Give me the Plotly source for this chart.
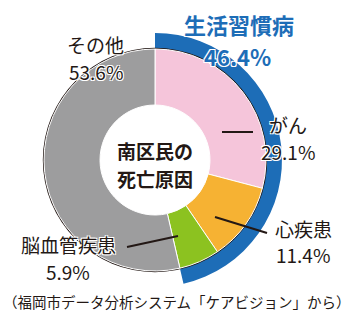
import plotly.graph_objects as go

W, H = 355, 318

# Data
categories = ["がん", "心疾患", "脳血管疾患", "その他"]
values = [29.1, 11.4, 5.9, 53.6]
colors = ["#F5C5DA", "#F6B233", "#8CC220", "#9D9D9E"]
group_label = "生活習慣病"
group_value = 46.4
center_lines = ["南区民の", "死亡原因"]
source_text = "（福岡市データ分析システム「ケアビジョン」から）"

FONT = "Noto Sans CJK JP"
DARK = "#231815"
BLUE = "#1D6DB7"

def dom(cx, cy, r):
    return dict(x=[(cx - r) / W, (cx + r) / W], y=[(H - cy - r) / H, (H - cy + r) / H])

def px(x, y):
    return x / W, (H - y) / H

cx, cy = 155, 160
R_in, R_out, R_hole = 111, 127, 55

fig = go.Figure()

# Outer lifestyle-disease ring
fig.add_trace(go.Pie(
    values=[group_value, 100 - group_value],
    marker=dict(colors=[BLUE, "rgba(0,0,0,0)"], line=dict(width=0)),
    hole=(R_in - 1) / R_out, sort=False, direction="clockwise", rotation=0,
    textinfo="none", hoverinfo="skip", showlegend=False,
    domain=dom(cx, cy, R_out),
))
# thin dark outline
fig.add_trace(go.Pie(
    values=[1],
    marker=dict(colors=[DARK], line=dict(width=0)),
    hole=0.9, sort=False, textinfo="none", hoverinfo="skip", showlegend=False,
    domain=dom(cx, cy, R_in + 1.2),
))
# Main donut
fig.add_trace(go.Pie(
    labels=categories, values=values,
    marker=dict(colors=colors, line=dict(color="white", width=1)),
    hole=R_hole / R_in, sort=False, direction="clockwise", rotation=0,
    textinfo="none", showlegend=False,
    domain=dom(cx, cy, R_in),
))

halo = "1px 1px 0 white, -1px -1px 0 white, 1px -1px 0 white, -1px 1px 0 white"

def ann(x, y, text, size, color=DARK, bold=False, shadow=halo):
    ax, ay = px(x, y)
    fig.add_annotation(
        x=ax, y=ay, xref="paper", yref="paper", text=text, showarrow=False,
        xanchor="center", yanchor="middle", align="center",
        font=dict(family=FONT, size=size, color=color,
                  weight="bold" if bold else "normal", shadow=shadow),
    )

def pair(x, y1, y2, name, val, size=19):
    ann(x, y1, name, size)
    ann(x, y2, f"{val}%", size)

ann(239, 24, group_label, 22, BLUE, True)
ann(237, 56, f"{group_value}%", 22, BLUE, True)
pair(96, 45, 72, categories[3], values[3])
pair(288, 124, 151, categories[0], values[0])
pair(303, 228, 255, categories[1], values[1])
pair(68, 244, 271, categories[2], values[2])
ann(cx, 150, center_lines[0], 19, DARK, True, "none")
ann(cx, 178, center_lines[1], 19, DARK, True, "none")
ann(177, 301, source_text, 14.5, DARK, False, "none")

def line(x0, y0, x1, y1):
    a0, b0 = px(x0, y0)
    a1, b1 = px(x1, y1)
    fig.add_shape(type="line", xref="paper", yref="paper", x0=a0, y0=b0, x1=a1, y1=b1,
                  line=dict(color=DARK, width=2))

line(222, 132, 253, 132)
line(215, 217, 267, 233)
line(127, 247, 178, 236)

fig.update_layout(
    width=W, height=H, margin=dict(l=0, r=0, t=0, b=0),
    paper_bgcolor="white", plot_bgcolor="white",
)
fig.write_html("out.html")
